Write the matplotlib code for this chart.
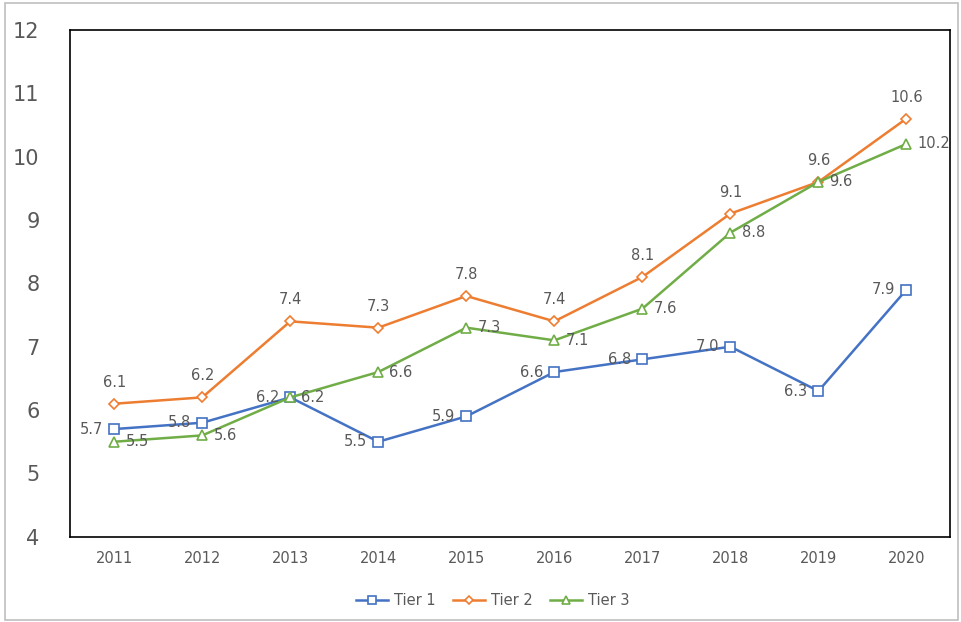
import matplotlib.pyplot as plt
from matplotlib.patches import Rectangle

years = ['2011', '2012', '2013', '2014', '2015', '2016', '2017', '2018', '2019', '2020']
tier1 = [5.7, 5.8, 6.2, 5.5, 5.9, 6.6, 6.8, 7.0, 6.3, 7.9]
tier2 = [6.1, 6.2, 7.4, 7.3, 7.8, 7.4, 8.1, 9.1, 9.6, 10.6]
tier3 = [5.5, 5.6, 6.2, 6.6, 7.3, 7.1, 7.6, 8.8, 9.6, 10.2]

text_color = '#595959'
fig = plt.figure(figsize=(9.62, 6.22), dpi=100)
ax = fig.add_axes([0.073, 0.137, 0.915, 0.815])

x = list(range(len(years)))
series = [
    ('Tier 1', tier1, '#4472C4', 's', (-8, 0), 'right', 'center'),
    ('Tier 2', tier2, '#ED7D31', 'D', (0, 10), 'center', 'bottom'),
    ('Tier 3', tier3, '#70AD47', '^', (8, 0), 'left', 'center'),
]
for name, vals, color, marker, offset, ha, va in series:
    ms = 5.5 if marker == 'D' else 7
    ax.plot(x, vals, color=color, lw=1.8, marker=marker, ms=ms,
            mfc='white', mec=color, mew=1.2, label=name)
    for xi, v in zip(x, vals):
        ax.annotate(f'{v:.1f}', (xi, v), xytext=offset, textcoords='offset points',
                    ha=ha, va=va, fontsize=10.5, color=text_color)

ax.set_xlim(-0.5, 9.5)
ax.set_ylim(4, 12)
ax.set_xticks(x)
ax.set_xticklabels(years, fontsize=10.5, color=text_color)
ax.set_yticks(range(4, 13))
ax.tick_params(axis='y', labelsize=15, labelcolor=text_color, length=0, pad=22)
ax.tick_params(axis='x', length=0, pad=10)
for s in ax.spines.values():
    s.set_color('black')
    s.set_linewidth(1.2)

ax.legend(loc='upper center', bbox_to_anchor=(0.48, -0.085), ncol=3, frameon=False,
          fontsize=10.5, labelcolor=text_color, handlelength=2.2, columnspacing=1.2,
          handletextpad=0.4, markerscale=0.8)

fig.patches.append(Rectangle((0.005, 0.003), 0.991, 0.992, transform=fig.transFigure,
                             fill=False, edgecolor='#BFBFBF', lw=1.2))

fig.savefig('out.png', dpi=100)
